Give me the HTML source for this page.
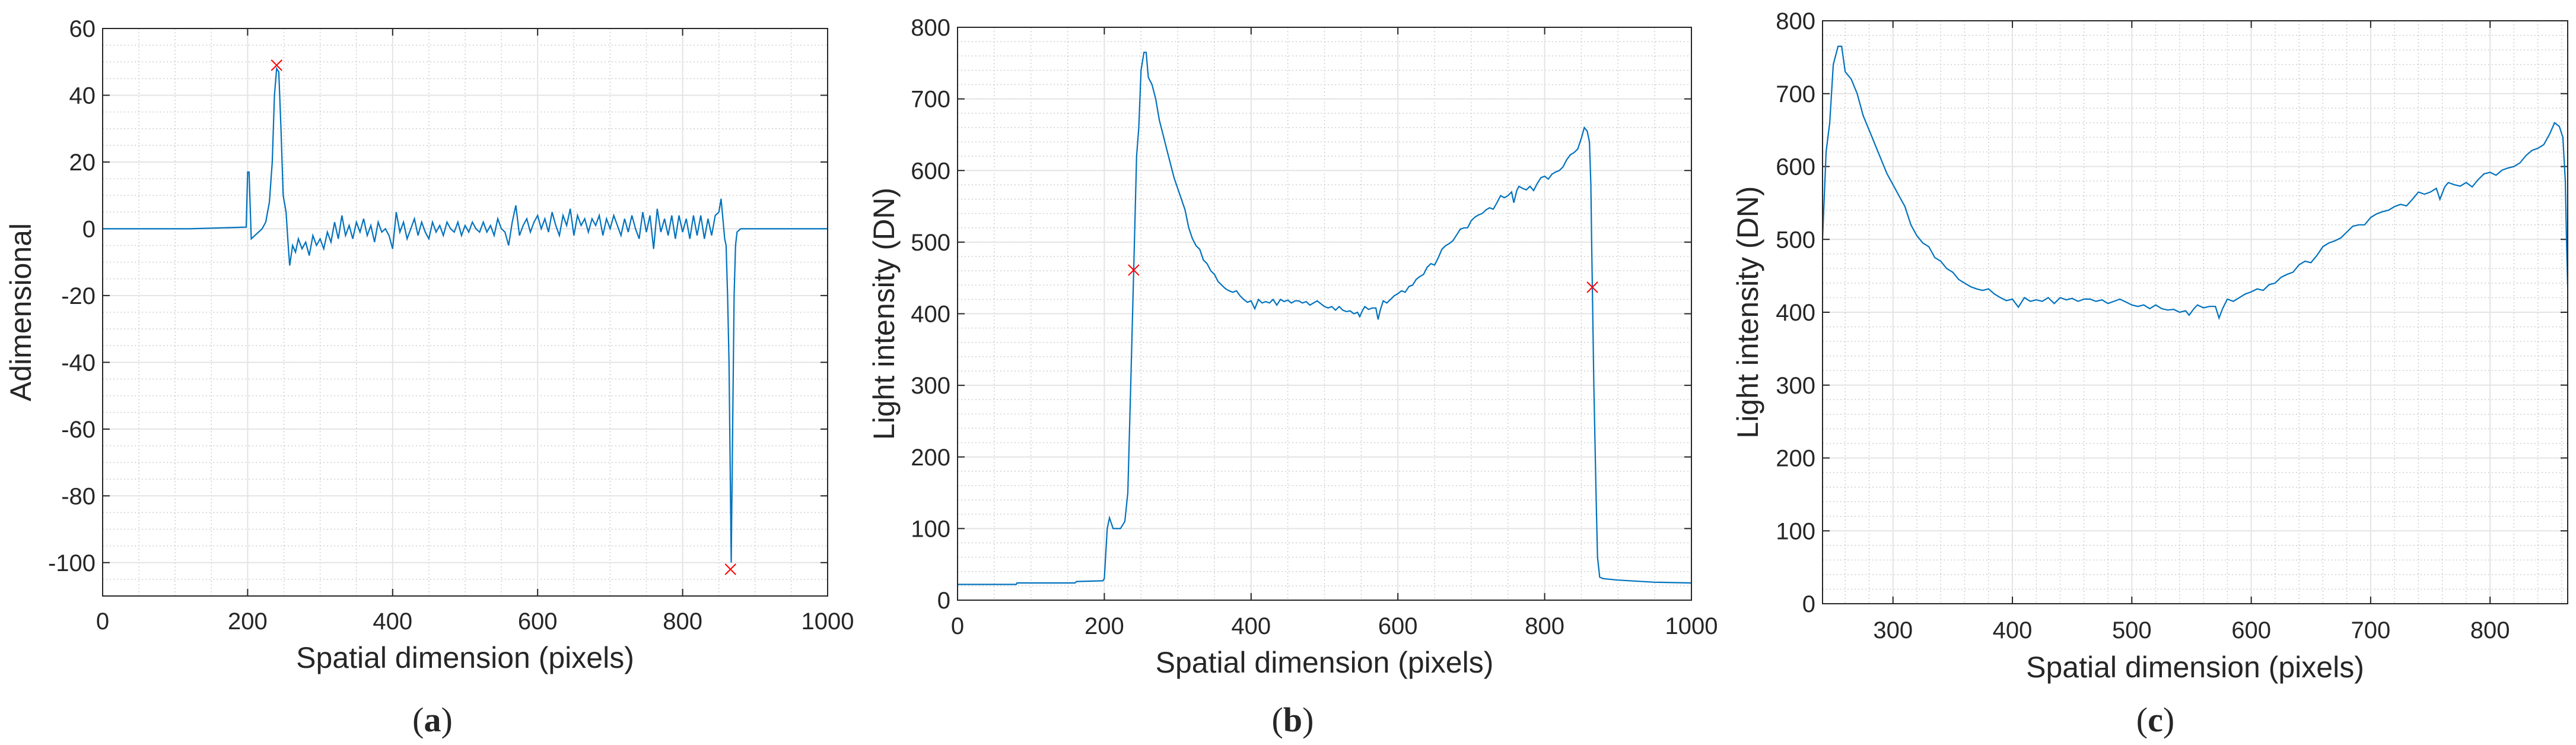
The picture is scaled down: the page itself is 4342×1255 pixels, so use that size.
<!DOCTYPE html>
<html><head><meta charset="utf-8"><style>
body{margin:0;background:#fff;width:4342px;height:1255px;overflow:hidden}
svg{display:block}
text{font-family:"Liberation Sans",sans-serif;fill:#262626}
</style></head><body>
<svg id="chart" width="4342" height="1255"></svg>
<script>
// ---- data ----
const aX=[0,120,198,200,202,205,210,220,225,230,234,237,240,243,246,249,253,256,258,262,266,270,275,280,285,290,295,300,305,310,315,320,325,330,335,340,345,350,355,360,365,370,375,380,385,390,395,400,405,410,415,420,425,430,435,440,445,450,455,460,465,470,475,480,485,490,495,500,505,510,515,520,525,530,535,540,545,550,555,560,565,570,575,580,585,590,595,600,605,610,615,620,625,630,635,640,645,650,655,660,665,670,675,680,685,690,695,700,705,710,715,720,725,730,735,740,745,750,755,760,765,770,775,780,785,790,795,800,805,810,815,820,825,830,835,840,845,850,853,856,858,860,862,864,866,867,869,871,873,875,880,1000];
const aY=[0,0,0.5,17,17,-3,-2,0,2,8,20,40,48,47,30,10,5,-5,-11,-5,-7,-3,-6,-4,-8,-2,-5,-3,-6,-1,-4,2,-3,4,-2,1,-3,2,-1,3,-2,1,-4,2,-1,0,-2,-6,5,-1,2,-3,0,3,-2,2,-1,-3,2,-1,1,-2,2,0,-1,2,-2,1,-1,2,0,-1,2,-1,1,-2,3,0,-1,-5,2,7,-2,1,3,-1,2,4,0,3,-1,5,1,-2,4,1,6,-2,4,1,3,-1,3,1,4,-2,3,0,4,1,-2,3,-1,4,0,-3,5,-1,4,-6,6,-1,3,-2,4,-3,4,-1,3,-3,4,-2,4,-3,3,-2,4,5,9,2,-3,-5,-20,-40,-80,-100,-60,-20,-5,-1,0,0];
const aMarkX=[240,866], aMarkY=[49,-102];
const bX=[0,80,81,160,162,198,200,204,207,212,222,228,232,236,240,244,247,250,254,257,260,265,270,275,280,285,290,295,300,305,310,315,320,325,330,335,340,345,350,355,360,365,370,375,380,385,390,395,400,405,410,415,420,425,430,435,440,445,450,455,460,465,470,475,480,485,490,495,500,505,510,515,520,525,530,535,540,545,548,552,555,560,565,570,573,576,580,585,590,595,600,605,610,615,620,625,630,635,640,645,650,655,660,665,670,675,680,685,690,695,700,705,710,715,720,725,730,735,740,745,750,755,758,762,765,770,775,780,785,790,795,800,805,810,815,820,825,830,835,840,845,850,854,858,861,863,864,865,867,870,872,875,880,900,950,1000];
const bY=[22,22,24,24,26,27,30,100,115,100,100,110,150,300,460,620,660,740,765,765,730,720,700,670,650,630,610,590,575,560,545,520,505,495,490,475,470,460,455,445,440,435,432,430,432,425,420,416,418,407,420,415,417,415,420,412,420,417,419,415,418,418,415,417,412,415,418,414,410,408,410,405,410,405,403,404,400,402,396,405,410,406,408,408,392,405,418,415,420,425,428,432,430,438,440,448,452,455,465,470,468,478,490,495,498,502,510,518,520,520,530,535,538,540,545,548,546,555,565,562,565,570,555,572,578,575,573,578,572,582,590,592,588,595,598,600,605,615,622,625,630,645,660,655,640,580,500,437,300,150,60,32,30,28,25,24];
const bMarkX=[240,865], bMarkY=[461,437];
const aTicksX=[0,200,400,600,800,1000], aTicksY=[-100,-80,-60,-40,-20,0,20,40,60];
const bTicksX=[0,200,400,600,800,1000], bTicksY=[0,100,200,300,400,500,600,700,800];
const cTicksX=[300,400,500,600,700,800], cTicksY=[0,100,200,300,400,500,600,700,800];

const NS="http://www.w3.org/2000/svg";
const svg=document.getElementById('chart');
function el(tag,attrs,parent){const e=document.createElementNS(NS,tag);for(const k in attrs)e.setAttribute(k,attrs[k]);(parent||svg).appendChild(e);return e;}

function panel(o){
  const g=el('g',{});
  
  
  const sx=v=>o.L+(v-o.x0)/(o.x1-o.x0)*(o.R-o.L);
  const sy=v=>o.B-(v-o.y0)/(o.y1-o.y0)*(o.B-o.T);
  // minor grid
  for(let v=Math.ceil(o.x0/o.mx)*o.mx;v<=o.x1;v+=o.mx){const l=el('line',{x1:sx(v),x2:sx(v),y1:o.T,y2:o.B,stroke:'#cfcfcf','stroke-width':1.5,'stroke-dasharray':'2 4'},g);}
  for(let v=Math.ceil(o.y0/o.my)*o.my;v<=o.y1;v+=o.my){const l=el('line',{x1:o.L,x2:o.R,y1:sy(v),y2:sy(v),stroke:'#cfcfcf','stroke-width':1.5,'stroke-dasharray':'2 4'},g);}
  // major grid + ticks
  o.tx.forEach(v=>{const x=sx(v);
    const l=el('line',{x1:x,x2:x,y1:o.T,y2:o.B,stroke:'#e4e4e4','stroke-width':2},g);
    el('line',{x1:x,x2:x,y1:o.B,y2:o.B-12,stroke:'#262626','stroke-width':2},g);
    el('line',{x1:x,x2:x,y1:o.T,y2:o.T+12,stroke:'#262626','stroke-width':2},g);
    const t=el('text',{x:x,y:o.tickY,'font-size':40,'text-anchor':'middle'},g);t.textContent=v;
    });
  o.ty.forEach(v=>{const y=sy(v);
    const l=el('line',{x1:o.L,x2:o.R,y1:y,y2:y,stroke:'#e4e4e4','stroke-width':2},g);
    el('line',{x1:o.L,x2:o.L+12,y1:y,y2:y,stroke:'#262626','stroke-width':2},g);
    el('line',{x1:o.R,x2:o.R-12,y1:y,y2:y,stroke:'#262626','stroke-width':2},g);
    const t=el('text',{x:o.L-12,y:y+14,'font-size':40,'text-anchor':'end'},g);t.textContent=v;
    });
  // series
  const cid='clip-'+o.name;
  const cp=el('clipPath',{id:cid},g);el('rect',{x:o.L,y:o.T,width:o.R-o.L,height:o.B-o.T},cp);
  const d=o.xs.map((x,i)=>(i?'L':'M')+sx(x).toFixed(1)+' '+sy(o.ys[i]).toFixed(1)).join(' ');
  const p=el('path',{d:d,fill:'none',stroke:'#0072bd','stroke-width':2.2,'clip-path':'url(#'+cid+')'},g);
  
  (o.mx2||[]).forEach((mx,i)=>{const x=sx(mx),y=sy(o.my2[i]);
    const m=el('path',{d:`M${x-9} ${y-9}L${x+9} ${y+9}M${x-9} ${y+9}L${x+9} ${y-9}`,stroke:'#ff0000','stroke-width':2},g);
    });
  // frame
  const f=el('rect',{x:o.L,y:o.T,width:o.R-o.L,height:o.B-o.T,fill:'none',stroke:'#262626','stroke-width':2},g);
  
  const xt=el('text',{x:(o.L+o.R)/2,y:o.xtY,'font-size':50,'text-anchor':'middle'},g);xt.textContent='Spatial dimension (pixels)';
  
  const yt=el('text',{x:0,y:0,'font-size':50,'text-anchor':'middle',transform:`translate(${o.ytX},${(o.T+o.B)/2}) rotate(-90)`},g);yt.textContent=o.ylab;
  
  const cap=el('text',{x:o.capX,y:1232,'font-size':58,'text-anchor':'middle',style:'font-family:"Liberation Serif",serif'},g);
  cap.innerHTML='(<tspan font-weight="bold">'+o.cap+'</tspan>)';
  
}
panel({name:'panel-a',L:173,R:1395,T:48,B:1004,x0:0,x1:1000,y0:-110,y1:60,mx:50,my:5,tx:aTicksX,ty:aTicksY,xs:aX,ys:aY,mx2:aMarkX,my2:aMarkY,tickY:1060,xtY:1125,ytX:52,ylab:'Adimensional',capX:729,cap:'a'});
panel({name:'panel-b',L:1614,R:2851,T:46,B:1011,x0:0,x1:1000,y0:0,y1:800,mx:50,my:20,tx:bTicksX,ty:bTicksY,xs:bX,ys:bY,mx2:bMarkX,my2:bMarkY,tickY:1068,xtY:1133,ytX:1507,ylab:'Light intensity (DN)',capX:2179,cap:'b'});
panel({name:'panel-c',L:3072,R:4328,T:35,B:1017,x0:241,x1:865,y0:0,y1:800,mx:20,my:20,tx:cTicksX,ty:cTicksY,xs:bX,ys:bY,tickY:1075,xtY:1141,ytX:2963,ylab:'Light intensity (DN)',capX:3633,cap:'c'});
</script>
</body></html>
